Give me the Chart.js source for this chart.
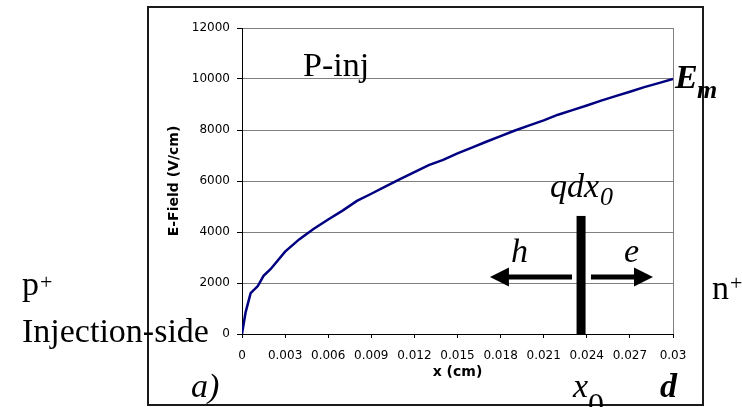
<!DOCTYPE html>
<html>
<head>
<meta charset="utf-8">
<script src="https://cdn.jsdelivr.net/npm/chart.js@4/dist/chart.umd.min.js"></script>
<style>
  html, body { margin: 0; padding: 0; background: #fff; }
  canvas { display: block; }
</style>
</head>
<body>
<canvas id="chart" width="742" height="407"></canvas>
<script>
// field profile across the drift region, P-injection case
var xPos = [0, 0.00025, 0.0006, 0.0011, 0.0015, 0.002, 0.003, 0.004, 0.005, 0.006,
            0.007, 0.008, 0.009, 0.010, 0.011, 0.012, 0.013, 0.014, 0.015, 0.016,
            0.017, 0.018, 0.019, 0.020, 0.021, 0.022, 0.023, 0.024, 0.025, 0.026,
            0.027, 0.028, 0.029, 0.030];
var eField = [0, 850, 1600, 1880, 2280, 2550, 3230, 3720, 4130, 4490,
              4840, 5220, 5500, 5790, 6070, 6350, 6620, 6830, 7080, 7310,
              7540, 7760, 7980, 8180, 8380, 8600, 8780, 8960, 9150, 9330,
              9500, 9680, 9840, 10000];

var xTicks = [0, 0.003, 0.006, 0.009, 0.012, 0.015, 0.018, 0.021, 0.024, 0.027, 0.03];
var xTickLabels = ['0', '0.003', '0.006', '0.009', '0.012', '0.015', '0.018', '0.021', '0.024', '0.027', '0.03'];
var yTicks = [0, 2000, 4000, 6000, 8000, 10000, 12000];
var yTickLabels = ['0', '2000', '4000', '6000', '8000', '10000', '12000'];

// charge sheet at x0 and drift arrows (data units)
var sheetX = 0.0236, sheetTop = 4630;
var arrowY = 2240;
var holeArrow = [0.02297, 0.01726];
var elecArrow = [0.02429, 0.02861];

var SERIF = '"Liberation Serif", "Times New Roman", serif';

function arrow(ctx, x0, x1, y) {
  var dir = x1 > x0 ? 1 : -1;
  var head = 19;
  ctx.beginPath();
  ctx.lineWidth = 5;
  ctx.moveTo(x0, y);
  ctx.lineTo(x1 - dir * head + dir * 2, y);
  ctx.stroke();
  ctx.beginPath();
  ctx.moveTo(x1, y);
  ctx.lineTo(x1 - dir * head, y - 9.5);
  ctx.lineTo(x1 - dir * head, y + 9.5);
  ctx.closePath();
  ctx.fill();
}

function text(ctx, s, x, y, font) {
  ctx.font = font;
  ctx.fillText(s, x, y);
}

var extras = {
  id: 'extras',
  beforeDraw: function (chart) {
    var ctx = chart.ctx;
    ctx.save();
    ctx.fillStyle = '#fff';
    ctx.fillRect(0, 0, chart.width, chart.height);
    ctx.strokeStyle = '#1a1a1a';
    ctx.lineWidth = 2;
    ctx.strokeRect(148, 7, 555, 398);
    ctx.restore();
  },
  beforeDatasetsDraw: function (chart) {
    var a = chart.chartArea, ctx = chart.ctx;
    ctx.save();
    ctx.strokeStyle = '#808080';
    ctx.lineWidth = 1;
    ctx.beginPath();
    ctx.moveTo(Math.round(a.right) + 0.5, a.top);
    ctx.lineTo(Math.round(a.right) + 0.5, a.bottom);
    ctx.stroke();
    ctx.restore();
  },
  afterDatasetsDraw: function (chart) {
    var ctx = chart.ctx, xs = chart.scales.x, ys = chart.scales.y;
    ctx.save();
    ctx.fillStyle = '#000';
    ctx.strokeStyle = '#000';

    var bx = xs.getPixelForValue(sheetX);
    var by0 = ys.getPixelForValue(sheetTop), by1 = ys.getPixelForValue(0);
    ctx.fillRect(bx - 4.5, by0, 9, by1 - by0 + 1);

    var ay = ys.getPixelForValue(arrowY);
    arrow(ctx, xs.getPixelForValue(holeArrow[0]), xs.getPixelForValue(holeArrow[1]), ay);
    arrow(ctx, xs.getPixelForValue(elecArrow[0]), xs.getPixelForValue(elecArrow[1]), ay);

    ctx.textBaseline = 'alphabetic';
    ctx.textAlign = 'left';
    text(ctx, 'h', 511, 262, 'italic 34px ' + SERIF);
    text(ctx, 'e', 624, 262, 'italic 34px ' + SERIF);
    text(ctx, 'qdx', 550, 197, 'italic 34px ' + SERIF);
    text(ctx, '0', 600, 205, 'italic 26px ' + SERIF);
    text(ctx, 'P-inj', 303, 76, '34px ' + SERIF);

    // labels outside the plot frame
    text(ctx, 'E', 675, 88, 'italic bold 34px ' + SERIF);
    text(ctx, 'm', 697, 98, 'italic bold 26px ' + SERIF);
    text(ctx, 'p', 22, 295, '34px ' + SERIF);
    text(ctx, '+', 40, 289, '22px ' + SERIF);
    text(ctx, 'Injection-side', 22, 342, '34px ' + SERIF);
    text(ctx, 'n', 712, 299, '34px ' + SERIF);
    text(ctx, '+', 730, 290, '22px ' + SERIF);
    text(ctx, 'a)', 191, 397, 'italic 34px ' + SERIF);
    text(ctx, 'x', 573, 397, 'italic 34px ' + SERIF);
    text(ctx, '0', 588, 415, '32px ' + SERIF);
    text(ctx, 'd', 660, 397, 'italic bold 34px ' + SERIF);
    ctx.restore();
  }
};

var tickFont = { family: '"DejaVu Sans", sans-serif', size: 12 };
var titleFont = { family: '"DejaVu Sans", sans-serif', size: 14, weight: 'bold' };

new Chart(document.getElementById('chart'), {
  type: 'line',
  data: {
    datasets: [{
      data: xPos.map(function (x, i) { return { x: x, y: eField[i] }; }),
      borderColor: '#000080',
      borderWidth: 2.5,
      pointRadius: 0,
      tension: 0,
      fill: false
    }]
  },
  options: {
    responsive: false,
    animation: false,
    layout: { padding: { left: 150, right: 69, top: 28, bottom: 0 } },
    plugins: { legend: { display: false }, tooltip: { enabled: false } },
    scales: {
      x: {
        type: 'linear',
        min: 0,
        max: 0.03,
        afterFit: function (s) { s.height = 73; },
        afterBuildTicks: function (s) { s.ticks = xTicks.map(function (v) { return { value: v }; }); },
        ticks: {
          color: '#000',
          font: tickFont,
          padding: 11,
          maxRotation: 0,
          autoSkip: false,
          callback: function (v, i) { return xTickLabels[i]; }
        },
        grid: { drawOnChartArea: false, tickLength: 4, tickColor: '#000' },
        border: { color: '#000', width: 1 },
        title: { display: true, text: 'x (cm)', color: '#000', font: titleFont, padding: { top: 0, bottom: 26 } }
      },
      y: {
        min: 0,
        max: 12000,
        afterFit: function (s) { s.width = 92; },
        afterBuildTicks: function (s) { s.ticks = yTicks.map(function (v) { return { value: v }; }); },
        ticks: {
          color: '#000',
          font: tickFont,
          padding: 7,
          callback: function (v, i) { return yTickLabels[i]; }
        },
        grid: { color: '#808080', lineWidth: 1, tickLength: 5, tickColor: '#000' },
        border: { color: '#000', width: 1 },
        title: { display: true, text: 'E-Field (V/cm)', color: '#000', font: titleFont, padding: { top: 16, bottom: 0 } }
      }
    }
  },
  plugins: [extras]
});
</script>
</body>
</html>
